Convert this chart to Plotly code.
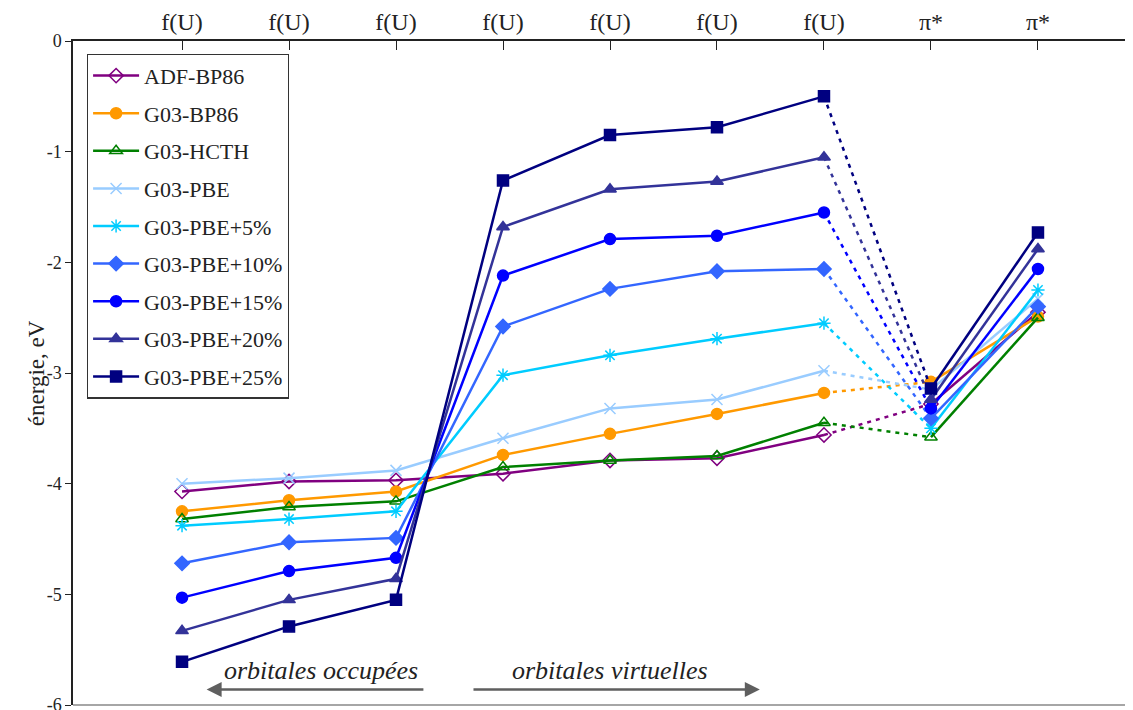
import plotly.graph_objects as go

positions = [1, 2, 3, 4, 5, 6, 7, 8, 9]
tick_labels = ["f(U)"] * 7 + ["π*", "π*"]
y_ticks = [0, -1, -2, -3, -4, -5, -6]
y_tick_labels = ["0", "-1", "-2", "-3", "-4", "-5", "-6"]

adf_bp86 = [-4.07, -3.98, -3.97, -3.91, -3.79, -3.77, -3.56, -3.28, -2.45]
g03_bp86 = [-4.25, -4.15, -4.07, -3.74, -3.55, -3.37, -3.18, -3.08, -2.49]
g03_hcth = [-4.32, -4.21, -4.16, -3.85, -3.79, -3.75, -3.45, -3.58, -2.50]
g03_pbe = [-4.00, -3.95, -3.88, -3.59, -3.32, -3.24, -2.98, -3.15, -2.33]
g03_pbe5 = [-4.38, -4.32, -4.25, -3.02, -2.84, -2.69, -2.55, -3.50, -2.25]
g03_pbe10 = [-4.72, -4.53, -4.49, -2.58, -2.24, -2.08, -2.06, -3.41, -2.40]
g03_pbe15 = [-5.03, -4.79, -4.67, -2.12, -1.79, -1.76, -1.55, -3.32, -2.06]
g03_pbe20 = [-5.33, -5.05, -4.86, -1.68, -1.34, -1.27, -1.05, -3.24, -1.88]
g03_pbe25 = [-5.61, -5.29, -5.05, -1.26, -0.85, -0.78, -0.50, -3.14, -1.73]

series = [
    ("ADF-BP86", adf_bp86, "#800080", "diamond-open"),
    ("G03-BP86", g03_bp86, "#FF9900", "circle"),
    ("G03-HCTH", g03_hcth, "#008000", "triangle-up-open"),
    ("G03-PBE", g03_pbe, "#99CCFF", "x-thin-open"),
    ("G03-PBE+5%", g03_pbe5, "#00CCFF", "asterisk-open"),
    ("G03-PBE+10%", g03_pbe10, "#3366FF", "diamond"),
    ("G03-PBE+15%", g03_pbe15, "#0000FF", "circle"),
    ("G03-PBE+20%", g03_pbe20, "#333399", "triangle-up"),
    ("G03-PBE+25%", g03_pbe25, "#000080", "square"),
]

SERIF = "Liberation Serif, Times New Roman, DejaVu Serif, serif"

fig = go.Figure()
for name, vals, color, sym in series:
    mk = dict(symbol=sym, size=11, color=color, line=dict(color=color, width=1.5))
    # f(U) levels, solid
    fig.add_trace(go.Scatter(x=positions[:7], y=vals[:7], mode="lines+markers", name=name,
                             line=dict(color=color, width=2.5), marker=mk, legendgroup=name))
    # dashed jump to pi*
    fig.add_trace(go.Scatter(x=positions[6:8], y=vals[6:8], mode="lines", showlegend=False,
                             line=dict(color=color, width=2.5, dash="4px,5px"), legendgroup=name,
                             hoverinfo="skip"))
    fig.add_trace(go.Scatter(x=positions[7:], y=vals[7:], mode="lines+markers", showlegend=False,
                             line=dict(color=color, width=2.5), marker=mk, legendgroup=name))

fig.add_annotation(x=1.23, y=-5.86, ax=3.27, ay=-5.86, xref="x", yref="y", axref="x", ayref="y",
                   text="", showarrow=True, arrowhead=2, arrowsize=1.2, arrowwidth=2.5, arrowcolor="#5f5f5f")
fig.add_annotation(x=6.40, y=-5.86, ax=3.71, ay=-5.86, xref="x", yref="y", axref="x", ayref="y",
                   text="", showarrow=True, arrowhead=2, arrowsize=1.2, arrowwidth=2.5, arrowcolor="#5f5f5f")
fig.add_annotation(x=2.30, y=-5.69, text="<i>orbitales occupées</i>", showarrow=False,
                   font=dict(family=SERIF, size=26, color="#222"))
fig.add_annotation(x=5.0, y=-5.69, text="<i>orbitales virtuelles</i>", showarrow=False,
                   font=dict(family=SERIF, size=26, color="#222"))
fig.add_annotation(x=-0.048, y=0.5, xref="paper", yref="paper", text="énergie, eV", textangle=-90,
                   showarrow=False, font=dict(family=SERIF, size=23, color="#222"))
fig.add_shape(type="line", xref="paper", yref="paper", x0=0, x1=1, y0=0, y1=0,
              line=dict(color="#888", width=1.5))

# page body adds an 8px offset, so margins are shifted to compensate
fig.update_layout(
    width=1133, height=710,
    margin=dict(l=65, r=0, t=33, b=13),
    plot_bgcolor="white", paper_bgcolor="white",
    font=dict(family=SERIF, color="#222"),
    showlegend=True,
    legend=dict(x=0.013, y=0.981, xanchor="left", yanchor="top", bgcolor="white",
                bordercolor="#333", borderwidth=1.2, font=dict(family=SERIF, size=22),
                tracegroupgap=6, itemwidth=46),
    xaxis=dict(side="top", range=[-0.019, 9.963], tickvals=positions, ticktext=tick_labels,
               showgrid=False, zeroline=False, showline=True, linecolor="#222", linewidth=1.5,
               ticks="inside", ticklen=9, tickcolor="#222", tickfont=dict(family=SERIF, size=24),
               automargin=False),
    yaxis=dict(range=[-6, 0], tickvals=y_ticks, ticktext=y_tick_labels, showgrid=False,
               zeroline=False, showline=True, linecolor="#222", linewidth=1.5, ticks="outside",
               ticklen=6, tickcolor="#222", tickfont=dict(family=SERIF, size=18), automargin=False),
)

fig.write_html("out.html")
